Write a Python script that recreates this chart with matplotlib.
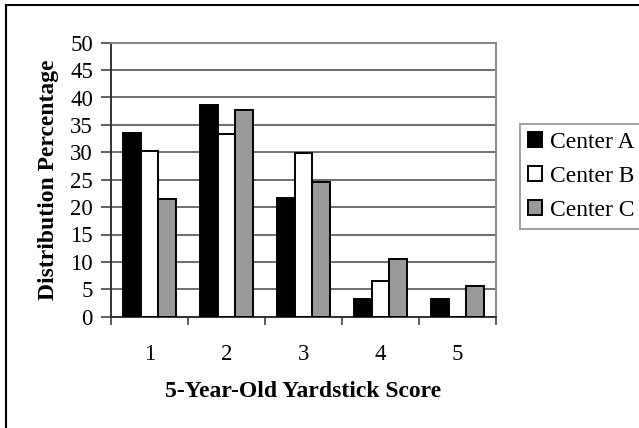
import matplotlib
matplotlib.use("Agg")
import matplotlib.pyplot as plt
from matplotlib.patches import Rectangle, Patch
import numpy as np

categories = ["1", "2", "3", "4", "5"]
center_a = [33.5, 38.6, 21.6, 3.3, 3.3]
center_b = [30.3, 33.3, 29.8, 6.5, 0.0]
center_c = [21.5, 37.7, 24.5, 10.6, 5.6]
series_names = ["Center A", "Center B", "Center C"]
colors = ["#000000", "#ffffff", "#999999"]
y_ticks = [0, 5, 10, 15, 20, 25, 30, 35, 40, 45, 50]

plt.rcParams['font.family'] = ['Liberation Serif', 'DejaVu Serif']

W, H = 639, 428
fig = plt.figure(figsize=(W/100, H/100), dpi=100)
ax = fig.add_axes([111/W, (H-316.7)/H, 385/W, 274/H])

x = np.arange(1, len(categories) + 1)
w = 0.23
for i, (vals, name, c) in enumerate(zip([center_a, center_b, center_c], series_names, colors)):
    ax.bar(x + (i - 1) * w, vals, width=w, color=c, edgecolor="black", linewidth=1.4,
           label=name, zorder=3)

ax.set_xlim(0.5, 5.5)
ax.set_ylim(0, 50)
ax.set_yticks(y_ticks)
ax.set_yticklabels([str(t) for t in y_ticks], fontsize=16.5)
ax.yaxis.grid(True, color="#555555", linewidth=1.2, zorder=0)
ax.set_axisbelow(True)

ax.set_xticks(np.arange(0.5, 6.0, 1.0))
ax.set_xticklabels([])
ax.set_xticks(x, minor=True)
ax.set_xticklabels(categories, minor=True, fontsize=16.5)
ax.tick_params(axis='x', which='major', direction='out', length=6, width=1.2, color="#444444")
ax.tick_params(axis='x', which='minor', length=0, pad=20)
ax.tick_params(axis='y', direction='out', length=7, width=1.2, color="#444444", pad=6)

for s in ['top', 'right']:
    ax.spines[s].set_color("#888888")
    ax.spines[s].set_linewidth(1.4)
for s in ['left', 'bottom']:
    ax.spines[s].set_color("#333333")
    ax.spines[s].set_linewidth(1.4)

ax.set_ylabel("Distribution Percentage", fontsize=17, fontweight='bold', labelpad=8)
ax.set_xlabel("5-Year-Old Yardstick Score", fontsize=17, fontweight='bold', labelpad=11)

handles = [Patch(facecolor=c, edgecolor="black", linewidth=1.4) for c in colors]
leg = fig.legend(handles, series_names, loc='upper left',
                 bbox_to_anchor=(520/W, 1 - 124/H), borderaxespad=0,
                 fontsize=17, frameon=True, fancybox=False,
                 handlelength=0.6, handleheight=0.6, handletextpad=0.3,
                 labelspacing=0.55, borderpad=0.35)
leg.get_frame().set_edgecolor("#888888")
leg.get_frame().set_linewidth(1.4)

fig.patches.append(Rectangle((5.5/W, -0.1), 1.2, 1 - 4.5/H + 0.1, transform=fig.transFigure,
                             fill=False, edgecolor="black", linewidth=1.5, zorder=0))

fig.savefig("out.png", dpi=100)
